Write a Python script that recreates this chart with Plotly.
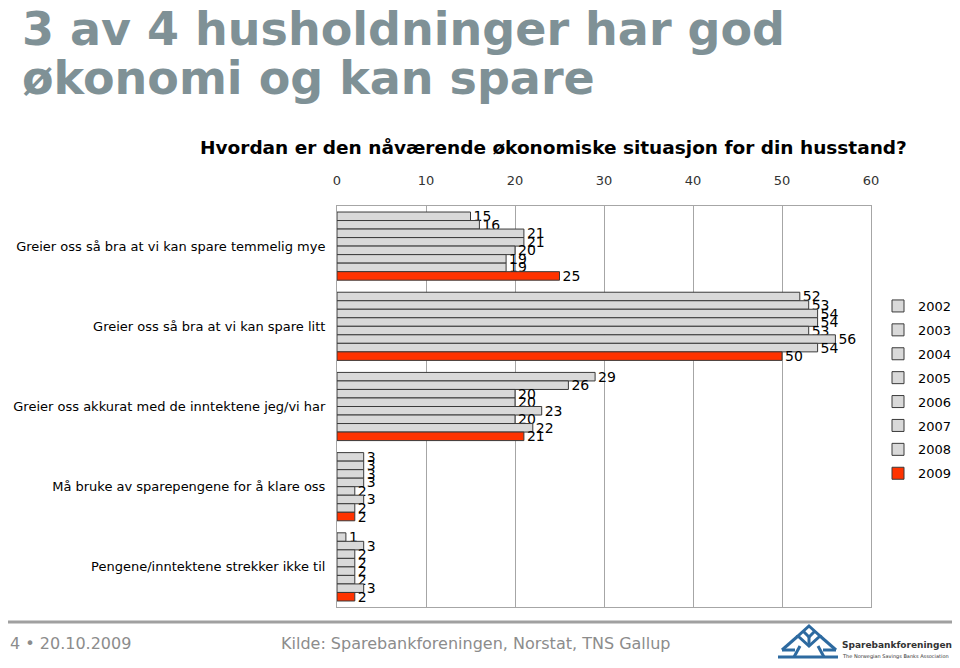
import plotly.graph_objects as go

categories = [
    "Greier oss så bra at vi kan spare temmelig mye",
    "Greier oss så bra at vi kan spare litt",
    "Greier oss akkurat med de inntektene jeg/vi har",
    "Må bruke av sparepengene for å klare oss",
    "Pengene/inntektene strekker ikke til",
]
years = ["2002", "2003", "2004", "2005", "2006", "2007", "2008", "2009"]
values = {
    "2002": [15, 52, 29, 3, 1],
    "2003": [16, 53, 26, 3, 3],
    "2004": [21, 54, 20, 3, 2],
    "2005": [21, 54, 20, 3, 2],
    "2006": [20, 53, 23, 2, 2],
    "2007": [19, 56, 20, 3, 2],
    "2008": [19, 54, 22, 2, 3],
    "2009": [25, 50, 21, 2, 2],
}
x_ticks = [0, 10, 20, 30, 40, 50, 60]

FONT = "DejaVu Sans"
OFF = 8  # page body margin
W, H = 952, 660
ML, MT, PW, PH = 337 - OFF, 206 - OFF, 534, 401
MR, MB = W - ML - PW, H - MT - PH


def px(x):
    return (x - OFF - ML) / PW


def py(y):
    return (MT + PH - (y - OFF)) / PH


fig = go.Figure()
for yr in years:
    is_last = yr == "2009"
    fig.add_trace(go.Bar(
        y=categories, x=values[yr], name=yr, orientation="h",
        marker=dict(color="#ff3300" if is_last else "#d9d9d9",
                    line=dict(color="#3a3a3a", width=1)),
        text=[str(v) for v in values[yr]], textposition="outside",
        textfont=dict(family=FONT, size=14, color="#000000"),
        constraintext="none", cliponaxis=False,
        legendgroup=yr,
    ))

fig.update_layout(
    width=W, height=H,
    paper_bgcolor="white", plot_bgcolor="white",
    margin=dict(l=ML, r=MR, t=MT, b=MB, autoexpand=False),
    barmode="group", bargap=0.15, bargroupgap=0,
    font=dict(family=FONT, size=13, color="#000000"),
    showlegend=True,
    legend=dict(x=px(878), y=py(291), xanchor="left", yanchor="top",
                font=dict(family=FONT, size=13, color="#000000"),
                tracegroupgap=4, itemwidth=30, bgcolor="rgba(0,0,0,0)"),
    xaxis=dict(range=[0, 60], tickvals=x_ticks, side="top",
               showgrid=True, gridcolor="#a6a6a6", gridwidth=1,
               showline=True, linecolor="#a6a6a6", mirror=True,
               zeroline=False, ticks="", ticklabelstandoff=15, automargin=False,
               tickfont=dict(family=FONT, size=13, color="#333333")),
    yaxis=dict(categoryorder="array", categoryarray=categories,
               autorange="reversed", showline=True, linecolor="#a6a6a6",
               mirror=True, ticks="", ticklabelstandoff=8, automargin=False,
               tickfont=dict(family=FONT, size=13, color="#000000")),
)

TITLE_C = "#7f9196"
fig.add_annotation(text="<b>3 av 4 husholdninger har god</b>",
                   xref="paper", yref="paper", x=px(20), y=py(29), xanchor="left", yanchor="middle",
                   showarrow=False, align="left",
                   font=dict(family=FONT, size=46, color=TITLE_C))
fig.add_annotation(text="<b>økonomi og kan spare</b>",
                   xref="paper", yref="paper", x=px(20), y=py(78), xanchor="left", yanchor="middle",
                   showarrow=False, align="left",
                   font=dict(family=FONT, size=46, color=TITLE_C))
fig.add_annotation(text="<b>Hvordan er den nåværende økonomiske situasjon for din husstand?</b>",
                   xref="paper", yref="paper", x=px(553), y=py(148), xanchor="center", yanchor="middle",
                   showarrow=False,
                   font=dict(family=FONT, size=18.5, color="#000000"))

# footer
fig.add_shape(type="line", xref="paper", yref="paper", x0=px(8), x1=px(960),
              y0=py(622), y1=py(622), line=dict(color="#a0a0a0", width=3))
fig.add_annotation(text="4 • 20.10.2009", xref="paper", yref="paper",
                   x=px(8), y=py(643), xanchor="left", yanchor="middle", showarrow=False,
                   font=dict(family=FONT, size=16, color="#8c8c8c"))
fig.add_annotation(text="Kilde: Sparebankforeningen, Norstat, TNS Gallup", xref="paper", yref="paper",
                   x=px(279), y=py(643), xanchor="left", yanchor="middle", showarrow=False,
                   font=dict(family=FONT, size=16, color="#8c8c8c"))
# logo text
fig.add_annotation(text="<b>Sparebankforeningen</b>", xref="paper", yref="paper",
                   x=px(840), y=py(645), xanchor="left", yanchor="middle", showarrow=False,
                   font=dict(family=FONT, size=9, color="#333333"))
fig.add_annotation(text="The Norwegian Savings Banks Association", xref="paper", yref="paper",
                   x=px(840), y=py(656), xanchor="left", yanchor="middle", showarrow=False,
                   font=dict(family=FONT, size=5, color="#333333"))
# logo mark (decorative)
LOGO = "#2d6aa0"
pts = [(809, 626), (820, 636), (809, 646), (798, 636)]
fig.add_shape(type="path", xref="paper", yref="paper",
              path="M " + " L ".join(f"{px(a)},{py(b)}" for a, b in pts) + " Z",
              fillcolor="rgba(0,0,0,0)", line=dict(color=LOGO, width=3))
for (a, b, c, d) in [(809, 636, 809, 646), (803, 631, 809, 637), (815, 631, 809, 637),
                     (798, 636, 782, 650), (820, 636, 836, 650),
                     (782, 650, 795, 650), (836, 650, 823, 650),
                     (778, 657, 838, 657), (800, 646, 794, 657), (818, 646, 824, 657)]:
    fig.add_shape(type="line", xref="paper", yref="paper", x0=px(a), y0=py(b), x1=px(c), y1=py(d),
                  line=dict(color=LOGO, width=3))

fig.write_html("out.html")
